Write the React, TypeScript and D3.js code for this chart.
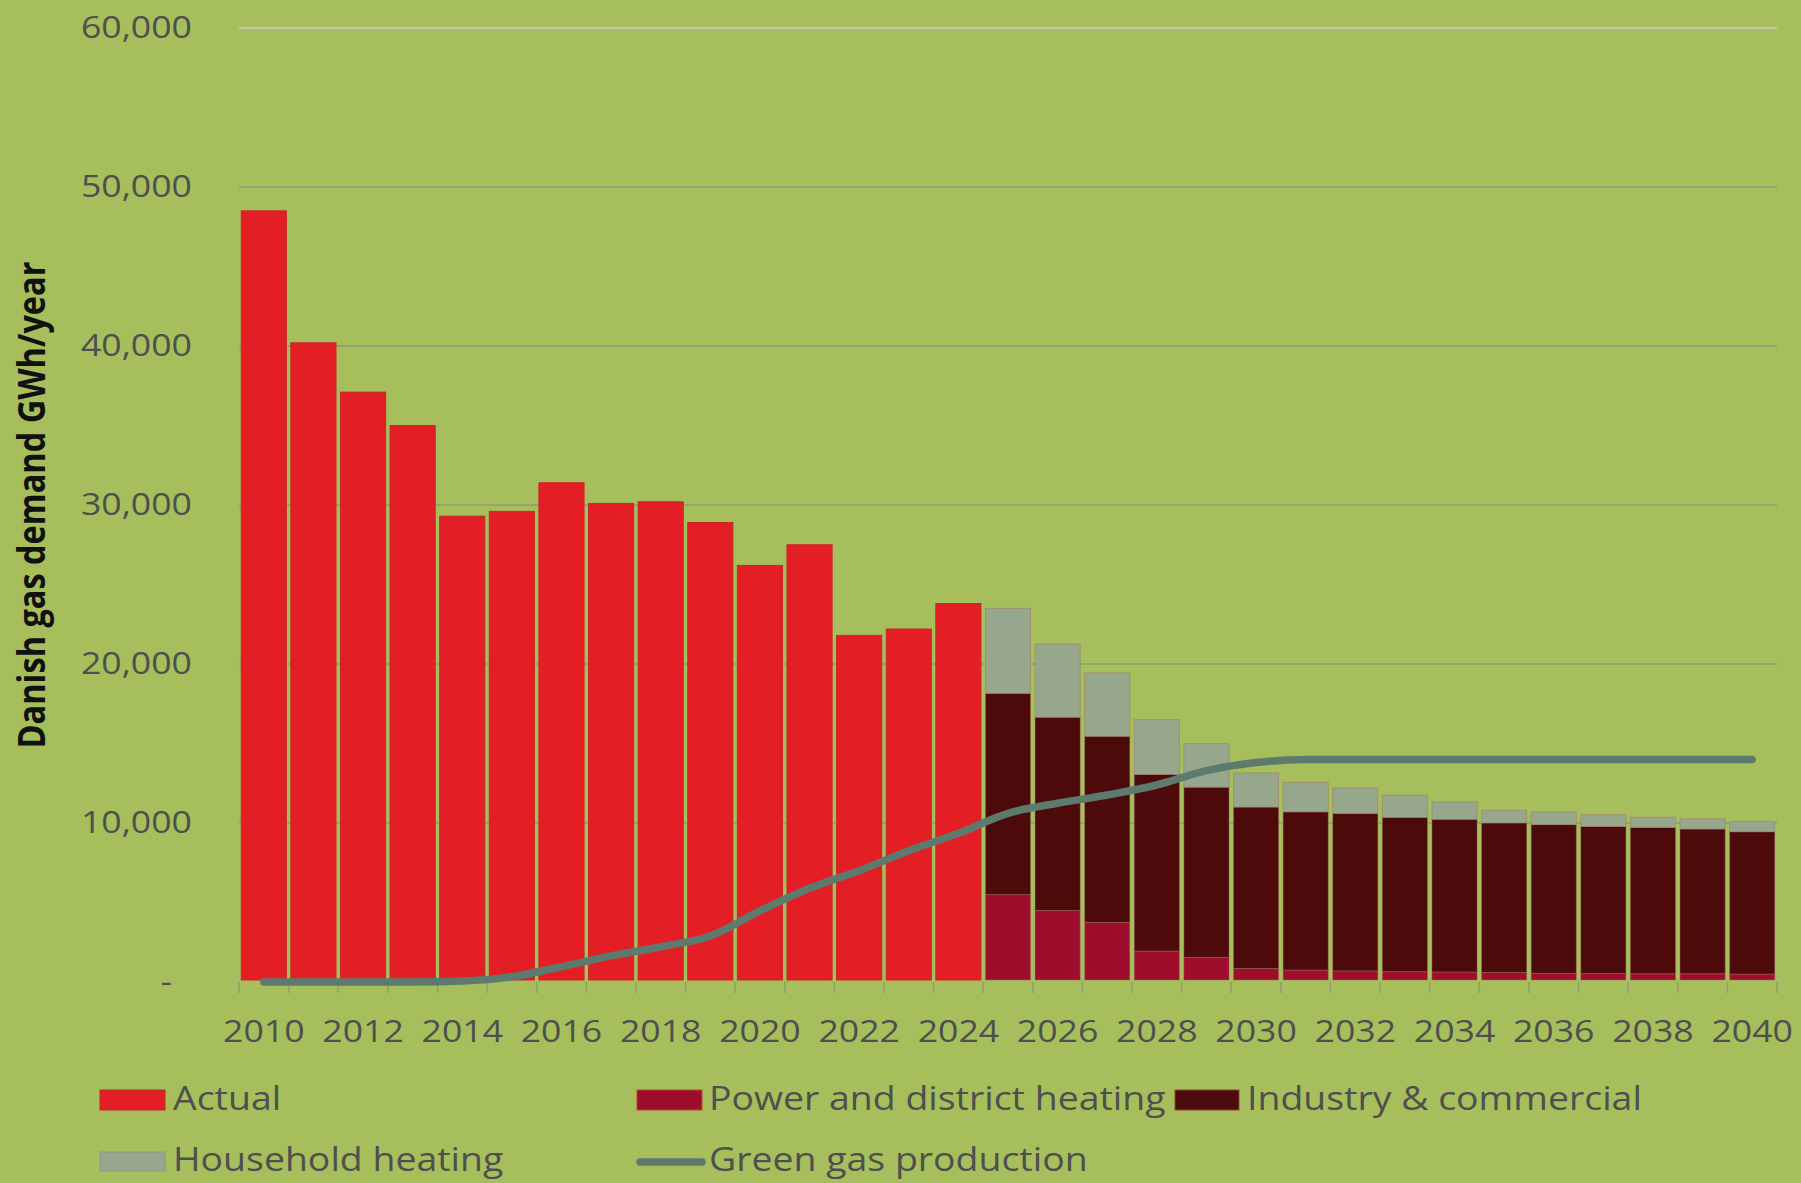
import * as d3 from "d3";

const years = [
  "2010", "2011", "2012", "2013", "2014", "2015", "2016", "2017", "2018", "2019",
  "2020", "2021", "2022", "2023", "2024", "2025", "2026", "2027", "2028", "2029",
  "2030", "2031", "2032", "2033", "2034", "2035", "2036", "2037", "2038", "2039", "2040",
];

// 2010-2024
const actual = [
  48500, 40200, 37100, 35000, 29300, 29600, 31400, 30100, 30200, 28900,
  26200, 27500, 21800, 22200, 23800,
];

// 2025-2040
const power = [5500, 4500, 3750, 1950, 1550, 850, 750, 700, 650, 630, 600, 550, 530, 520, 520, 500];
const industry = [12650, 12150, 11700, 11100, 10700, 10150, 9950, 9900, 9700, 9600, 9400, 9350, 9250, 9200, 9100, 8950];
const household = [5350, 4600, 4000, 3450, 2750, 2150, 1850, 1600, 1400, 1100, 800, 800, 750, 650, 650, 650];

// 2010-2040
const greenGas = [
  0, 0, 0, 0, 60, 330, 960, 1640, 2220, 2890,
  4470, 5890, 7000, 8260, 9350, 10610, 11240, 11760, 12390, 13290,
  13800, 14000, 14000, 14000, 14000, 14000, 14000, 14000, 14000, 14000, 14000,
];

const yTicks = [0, 10000, 20000, 30000, 40000, 50000, 60000];
const xLabels = years.filter((_, i) => i % 2 === 0);

const W = 1801;
const H = 1183;
const BG = "#a6bf5c";
const RED = "#e31e24";
const POWER = "#9e0d2c";
const INDUSTRY = "#4d0a0a";
const HOUSE = "#97a78d";
const LINE = "#5d7a6e";
const TEXT = "#4f4f4f";
const FONT = "'Open Sans', 'Noto Sans', sans-serif";
const SX = 1.15;
const SXL = 1.17;

const App = () => {
  const x = d3
    .scaleBand()
    .domain(years)
    .range([239, 1777])
    .paddingInner(0.09)
    .paddingOuter(0.045);
  const y = d3.scaleLinear().domain([0, 60000]).range([982, 28]);
  const fmt = d3.format(",");

  const projYears = years.slice(actual.length);
  const rows = projYears.map((yr, i) => ({
    year: yr,
    power: power[i],
    industry: industry[i],
    household: household[i],
  }));
  const stack = d3.stack<any>().keys(["power", "industry", "household"]);
  const series = stack(rows);
  const colors: any = { power: POWER, industry: INDUSTRY, household: HOUSE };

  const line = d3
    .line<number>()
    .x((_, i) => (x(years[i]) as number) + x.bandwidth() / 2)
    .y((d) => y(d))
    .curve(d3.curveMonotoneX);

  const edge = x.step() * 0.045;
  const boundaries = years.map((yr) => (x(yr) as number) - edge);
  boundaries.push(boundaries[boundaries.length - 1] + x.step());

  const legendRow1 = 1110;
  const legendRow2 = 1171;

  return (
    <>
      <style>{`body{margin:0}`}</style>
      <svg width={W} height={H} style={{ display: "block" }} fontFamily={FONT}>
        <rect width={W} height={H} fill={BG} />

        {/* grid */}
        {yTicks
          .filter((t) => t > 0)
          .map((t) => (
            <line
              key={t}
              x1={x.range()[0]}
              x2={x.range()[1]}
              y1={y(t)}
              y2={y(t)}
              stroke={t === 60000 ? "#c2c6ac" : "#93a374"}
              strokeWidth={2}
            />
          ))}

        {/* y labels */}
        {yTicks.map((t) => (
          <text
            key={t}
            transform={`translate(${t === 0 ? 172 : 192},${y(t) + 9.5}) scale(${SX},1)`}
            textAnchor="end"
            fontSize={31}
            fill={TEXT}
          >
            {t === 0 ? "-" : fmt(t)}
          </text>
        ))}

        <text
          transform={`translate(45,505) rotate(-90) scale(1,${SX})`}
          textAnchor="middle"
          fontSize={32.5}
          fontWeight="bold"
          fill="#111"
        >
          Danish gas demand GWh/year
        </text>

        {/* actual bars */}
        {actual.map((v, i) => (
          <rect
            key={years[i]}
            x={x(years[i])}
            y={y(v)}
            width={x.bandwidth()}
            height={y(0) - y(v) - 2}
            fill={RED}
            stroke="#c9282a"
            strokeWidth={1}
          />
        ))}

        {/* projected stacks */}
        {series.map((s) => (
          <g key={s.key} fill={colors[s.key]}>
            {s.map((d: any) => (
              <rect
                key={d.data.year}
                x={x(d.data.year)}
                y={y(d[1])}
                width={x.bandwidth()}
                height={Math.max(0, y(d[0]) - y(d[1]) - (d[0] === 0 ? 2 : 0))}
                stroke="rgba(160,110,100,0.45)"
                strokeWidth={1}
              />
            ))}
          </g>
        ))}

        {/* x ticks */}
        {boundaries.map((bx, i) => (
          <line key={i} x1={bx} x2={bx} y1={982} y2={993} stroke="#8f9f6c" strokeWidth={1.5} />
        ))}

        {/* green gas line */}
        <path
          d={line(greenGas) as string}
          fill="none"
          stroke={LINE}
          strokeWidth={7.5}
          strokeLinecap="round"
          strokeLinejoin="round"
        />

        {/* x labels */}
        {xLabels.map((yr) => (
          <text
            key={yr}
            transform={`translate(${(x(yr) as number) + x.bandwidth() / 2},1042) scale(${SX},1)`}
            textAnchor="middle"
            fontSize={31}
            fill={TEXT}
          >
            {yr}
          </text>
        ))}

        {/* legend */}
        <g fontSize={32} fill={TEXT}>
          <rect x={100} y={1090} width={65} height={20} fill={RED} stroke="#b9302e" />
          <text transform={`translate(173,${legendRow1}) scale(${SXL},1)`}>Actual</text>

          <rect x={637} y={1090} width={65} height={20} fill={POWER} stroke="#b84a3a" />
          <text transform={`translate(709,${legendRow1}) scale(${SXL},1)`}>Power and district heating</text>

          <rect x={1175} y={1090} width={64} height={20} fill={INDUSTRY} stroke="#8a4a30" />
          <text transform={`translate(1247,${legendRow1}) scale(${SXL},1)`}>Industry &amp; commercial</text>

          <rect x={100} y={1152} width={65} height={19} fill={HOUSE} stroke="#8a9a84" />
          <text transform={`translate(173,${legendRow2}) scale(${SXL},1)`}>Household heating</text>

          <line x1={640} x2={702} y1={1162} y2={1162} stroke={LINE} strokeWidth={7.5} strokeLinecap="round" />
          <text transform={`translate(709,${legendRow2}) scale(${SXL},1)`}>Green gas production</text>
        </g>
      </svg>
    </>
  );
};

export default App;
